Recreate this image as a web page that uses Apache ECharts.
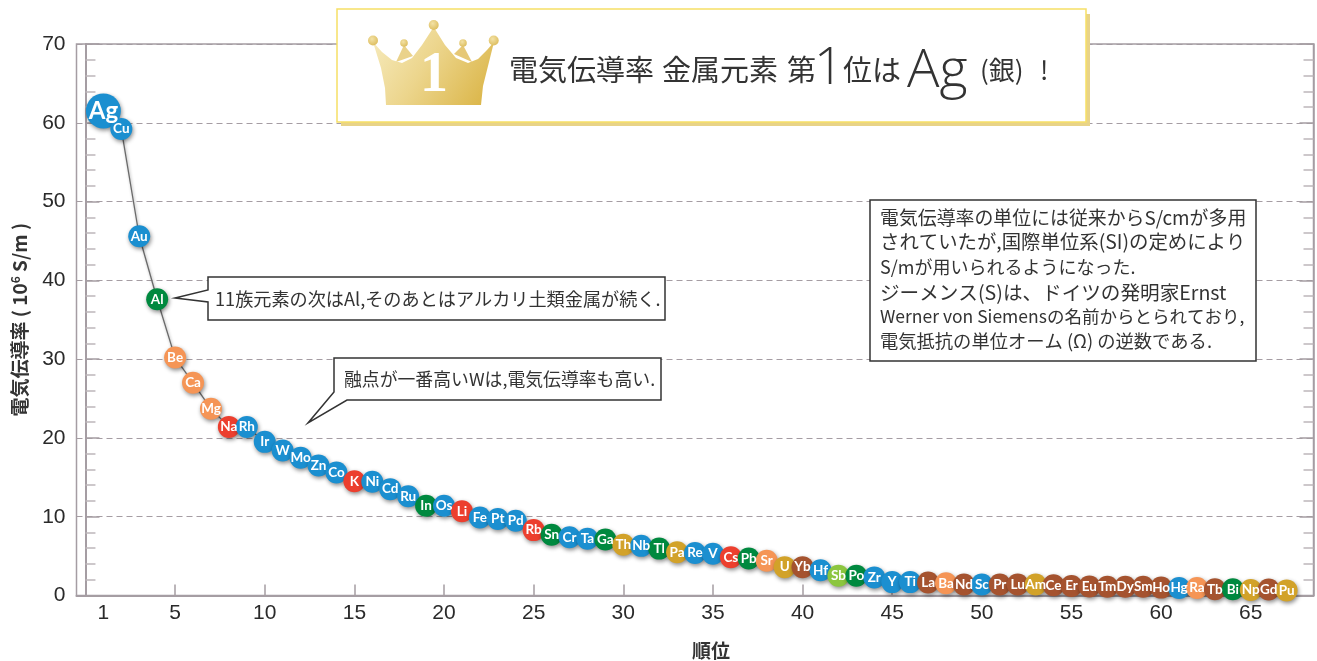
<!DOCTYPE html>
<html><head><meta charset="utf-8">
<style>html,body{margin:0;padding:0;background:#fff}#c{width:1317px;height:661px}</style>
<script src="https://cdn.jsdelivr.net/npm/echarts@6/dist/echarts.min.js"></script>
</head><body><div id="c"></div>
<script>
const elements = ['Ag','Cu','Au','Al','Be','Ca','Mg','Na','Rh','Ir','W','Mo','Zn','Co','K','Ni','Cd','Ru','In','Os','Li','Fe','Pt','Pd','Rb','Sn','Cr','Ta','Ga','Th','Nb','Tl','Pa','Re','V','Cs','Pb','Sr','U','Yb','Hf','Sb','Po','Zr','Y','Ti','La','Ba','Nd','Sc','Pr','Lu','Am','Ce','Er','Eu','Tm','Dy','Sm','Ho','Hg','Ra','Tb','Bi','Np','Gd','Pu'];
const conductivity = [61.5,59.2,45.6,37.6,30.2,27.0,23.7,21.4,21.4,19.5,18.4,17.5,16.5,15.6,14.5,14.45,13.5,12.6,11.4,11.4,10.7,9.9,9.7,9.5,8.3,7.7,7.4,7.2,7.1,6.45,6.3,5.95,5.5,5.4,5.3,4.85,4.7,4.4,3.6,3.6,3.2,2.5,2.5,2.3,1.7,1.7,1.65,1.55,1.4,1.4,1.4,1.4,1.4,1.3,1.2,1.15,1.1,1.1,1.1,1.0,0.95,0.95,0.8,0.8,0.7,0.75,0.65];
const groups = ['t','t','t','p','a','a','a','k','t','t','t','t','t','t','k','t','t','t','p','t','k','t','t','t','k','p','t','t','p','c','t','p','c','t','t','k','p','a','c','l','t','m','p','t','t','t','l','a','l','t','l','l','c','l','l','l','l','l','l','l','t','a','l','p','c','l','c'];
const groupColors = {t:'#1b8fd0',k:'#ec3f2e',p:'#00893f',a:'#f59556',c:'#d2a229',l:'#a5532f',m:'#8cc63f'};
const xTickLabels = [1,5,10,15,20,25,30,35,40,45,50,55,60,65];
const xTicks = [5,10,15,20,25,30,35,40,45,50,55,60,65];
const titleX = '順位';
const titleY = '電気伝導率 ( 10{sup|6} S/m )';
const note1 = '11族元素の次はAl,そのあとはアルカリ土類金属が続く.';
const note2 = '融点が一番高いWは,電気伝導率も高い.';
const note3 = ['電気伝導率の単位には従来からS/cmが多用','されていたが,国際単位系(SI)の定めにより','S/mが用いられるようになった.','ジーメンス(S)は、ドイツの発明家Ernst','Werner von Siemensの名前からとられており,','電気抵抗の単位オーム (Ω) の逆数である.'];

const JP = '"Noto Sans CJK JP"';
const LS = '"Liberation Sans"';
const axisGrey = '#a59da3';
const pts = elements.map((n,i)=>({
  value:[i+1,conductivity[i]], name:n,
  symbolSize: i===0?35:22,
  itemStyle:{color:groupColors[groups[i]]},
  label:{fontSize:i===0?24:13.5}
}));
function txt(x,y,text,size,opt){
  return {type:'text',x,y,z:30,style:Object.assign({text,fontFamily:JP,fontSize:size,fill:'#333',textVerticalAlign:'middle',textAlign:'left'},opt||{})};
}
function poly(points,fill,stroke,lw,z){
  return {type:'polygon',z:z||20,shape:{points},style:{fill,stroke:stroke||null,lineWidth:lw||0}};
}
const gold = {type:'linear',x:0,y:0,x2:1,y2:1,colorStops:[{offset:0,color:'#f7ecc0'},{offset:0.45,color:'#ecd58c'},{offset:1,color:'#d9b241'}]};
const goldBall = {type:'radial',x:0.4,y:0.35,r:0.7,colorStops:[{offset:0,color:'#f3e2a6'},{offset:1,color:'#dcbc5c'}]};
function ball(cx,cy,r){return {type:'circle',z:22,shape:{cx,cy,r},style:{fill:goldBall}};}
const note3Y = [218,242,267,293,316,341];
const note3Size = [18.9,19.4,18,19.6,17.5,18.3];
const graphics = [
  {type:'rect',z:18,shape:{x:341,y:14,width:749,height:112},style:{fill:'#e8d388'}},
  {type:'rect',z:19,shape:{x:337,y:9,width:749,height:113},style:{fill:'#fff',stroke:'#f6df66',lineWidth:1.5}},
  poly([[404,45],[396,62],[413,56]],'#ead28a'),
  poly([[463,45],[454,54],[472,62]],'#e6c877'),
  poly([[386,105],[385,88],[381,68],[373,42],[382,52],[392,60],[402,63],[412,58],[422,45],[433.7,27],[445,45],[456,58],[468,63],[478,59],[487,50],[494,42],[488,66],[483,86],[481,105]],gold),
  ball(373,40.5,5),ball(433.7,25,5),ball(493.7,40.5,5),ball(404,43,3.8),ball(463,43,3.8),
  {type:'text',x:434,y:77,z:24,style:{text:'1',fontFamily:'"Liberation Serif"',fontWeight:'bold',fontSize:56,fill:'#fff',textAlign:'center',textVerticalAlign:'middle',shadowColor:'rgba(120,90,20,0.5)',shadowBlur:2}},
  txt(509,70,'電気伝導率',29),
  txt(662,70,'金属元素',29),
  txt(787,70,'第',29),
  txt(814,69,'1',52,{fontFamily:'"Open Sans"',fontWeight:300}),
  txt(843,70,'位は',29),
  txt(907,72,'Ag',54,{fontFamily:'"Open Sans"',fontWeight:300}),
  txt(980,70,'(銀)',26),
  txt(1040,70,'!',26),
  poly([[208,277],[665,277],[665,320],[208,320],[208,302],[175,298],[208,290]],'#fff','#333',1.5),
  txt(215,299,note1,18.15),
  poly([[334,358],[661,358],[661,400],[347,400],[308,423],[334,392]],'#fff','#333',1.5),
  txt(344,379,note2,17.85),
  {type:'rect',z:20,shape:{x:870,y:200,width:386,height:161},style:{fill:'#fff',stroke:'#333',lineWidth:1.5}}
].concat(note3.map((t,i)=>txt(880,note3Y[i],t,note3Size[i])));

const chart = echarts.init(document.getElementById('c'),null,{renderer:'canvas'});
chart.setOption({
  backgroundColor:'#fff',
  animation:false,
  textStyle:{fontFamily:LS},
  grid:{left:76.5,right:3.5,top:44,bottom:65.5,show:true,borderColor:axisGrey,borderWidth:1.5,outerBoundsMode:'none'},
  xAxis:{
    type:'value',min:-0.5,max:68.5,
    name:titleX,nameLocation:'middle',nameGap:46,
    nameTextStyle:{fontFamily:JP,fontWeight:'bold',fontSize:19,color:'#333',padding:[0,0,0,32]},
    axisLine:{show:true,lineStyle:{color:axisGrey,width:2}},
    axisTick:{show:true,inside:true,length:11,lineStyle:{color:axisGrey,width:1.5},customValues:xTicks},
    axisLabel:{fontSize:21,color:'#2a2a2a',margin:7,fontFamily:LS,customValues:xTickLabels,showMinLabel:true,showMaxLabel:true},
    splitLine:{show:false}
  },
  yAxis:[{
    type:'value',min:0,max:70,interval:10,
    name:titleY,nameLocation:'middle',nameGap:47,nameRotate:90,
    nameTextStyle:{fontFamily:JP,fontWeight:'bold',fontSize:19,color:'#333',rich:{sup:{fontSize:12,fontFamily:JP,fontWeight:'bold',color:'#333',verticalAlign:'top',padding:[0,0,8,0]}}},
    axisLine:{show:true,lineStyle:{color:axisGrey,width:2}},
    axisTick:{show:true,inside:true,length:14,lineStyle:{color:axisGrey,width:1.5}},
    minorTick:{show:true,splitNumber:5,length:10,lineStyle:{color:'#bdb7bb',width:1.5}},
    axisLabel:{fontSize:21,color:'#2a2a2a',margin:11,fontFamily:LS,padding:[3,0,0,0]},
    splitLine:{show:true,lineStyle:{color:axisGrey,type:[6,4],width:1.2}}
  },{
    type:'value',min:0,max:70,interval:10,position:'right',
    axisLine:{show:true,lineStyle:{color:axisGrey,width:1.5}},
    axisTick:{show:true,inside:true,length:14,lineStyle:{color:axisGrey,width:1.5}},
    minorTick:{show:true,splitNumber:5,length:10,lineStyle:{color:'#bdb7bb',width:1.5}},
    axisLabel:{show:false},splitLine:{show:false}
  }],
  series:[{
    type:'line',data:pts,showSymbol:true,symbol:'circle',clip:false,z:10,
    lineStyle:{color:'#6a6a6a',width:1.3,shadowColor:'rgba(0,0,0,0.35)',shadowBlur:3,shadowOffsetX:1,shadowOffsetY:2},
    itemStyle:{shadowColor:'rgba(0,0,0,0.45)',shadowBlur:4,shadowOffsetX:1,shadowOffsetY:2,opacity:1},
    label:{show:true,position:'inside',formatter:p=>p.name,color:'#fff',fontFamily:'Lato',fontWeight:'bold'}
  }],
  graphic:{elements:graphics}
});
</script></body></html>
